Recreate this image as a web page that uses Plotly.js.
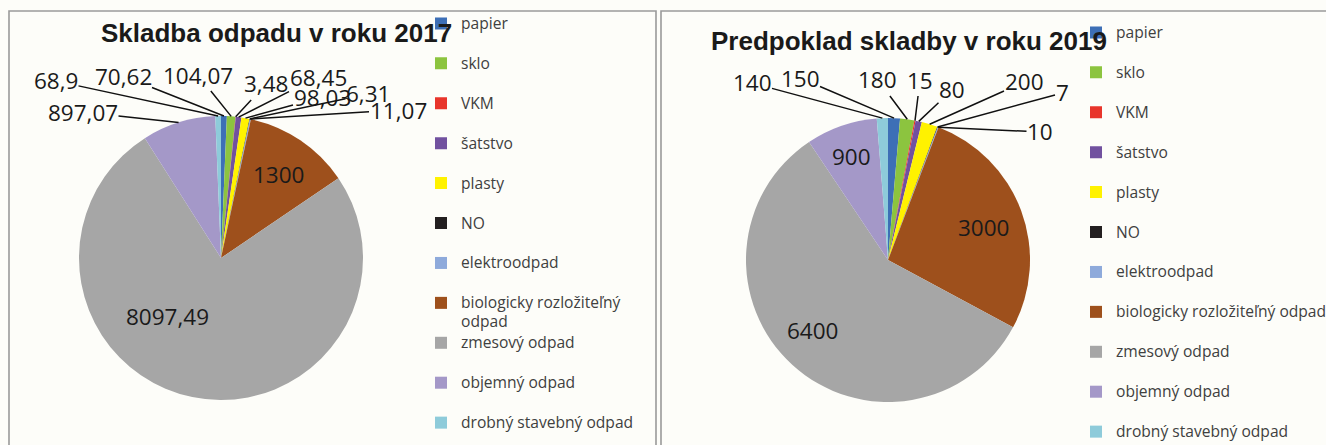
<!DOCTYPE html>
<html><head><meta charset="utf-8">
<script src="https://cdn.plot.ly/plotly-3.0.1.min.js"></script>
<style>html,body{margin:0;padding:0;background:#fdfdf9}#chart{width:1326px;height:445px}</style>
</head><body><div id="chart"></div>
<script>
// ---- data ----
const categories = ['papier','sklo','VKM','šatstvo','plasty','NO','elektroodpad','biologicky rozložiteľný odpad','zmesový odpad','objemný odpad','drobný stavebný odpad'];
const values2017 = [70.62, 104.07, 3.48, 68.45, 98.03, 6.31, 11.07, 1300, 8097.49, 897.07, 68.9];
const values2019 = [150, 180, 15, 80, 200, 7, 10, 3000, 6400, 900, 140];
const title2017 = 'Skladba odpadu v roku 2017';
const title2019 = 'Predpoklad skladby v roku 2019';

// ---- style ----
const colors = ['#3D6FB6','#8CC43F','#E8352B','#71519F','#FFF200','#231F20','#8EAADB','#9E501C','#A6A6A6','#A498C8','#8ECBDA'];
const W = 1326, H = 445;
const pie1 = {cx: 221, cy: 258, r: 142};
const pie2 = {cx: 888, cy: 260, r: 142};
// label centres (px) per slice index; 'in' = inside label without leader line
const labelPos2017 = {10:[56,81], 0:[123,76], 1:[198,75], 2:[266,84], 3:[318,77], 4:[322,97], 5:[368,94], 6:[398,110], 9:[83,112], 7:[278,174,'in'], 8:[167,316,'in']};
const labelPos2019 = {10:[752,83], 0:[800,78], 1:[878,80], 2:[920,80], 3:[952,90], 4:[1024,82], 5:[1062,93], 6:[1040,132], 7:[983,228,'in'], 8:[812,330,'in'], 9:[851,157,'in']};
const numFont = {family: 'Open Sans, sans-serif', size: 22.5, color: '#1a1a1a'};
const legFont = {family: 'Open Sans, sans-serif', size: 14.2, color: '#404040'};
const legTextSize = '15.6px';

function fmt(v){ return String(v).replace('.', ','); }
function domainOf(p){ return {x:[(p.cx-p.r)/W, (p.cx+p.r)/W], y:[1-(p.cy+p.r)/H, 1-(p.cy-p.r)/H]}; }
function edgePx(vals, i, p){
  const tot = vals.reduce((a,b)=>a+b,0);
  let cum = 0; for(let k=0;k<i;k++) cum += vals[k];
  const th = 2*Math.PI*(cum + vals[i]/2)/tot;
  return [p.cx + p.r*Math.sin(th), p.cy - p.r*Math.cos(th)];
}
function pieTrace(vals, labels, p, legendId){
  return {
    type: 'pie', values: vals, labels: labels, sort: false, direction: 'clockwise', rotation: 0,
    domain: domainOf(p),
    marker: {colors: colors, line: {width: 0}},
    text: vals.map(fmt), textinfo: 'none',
    hovertemplate: '%{text} (%{percent})<extra></extra>',
    legend: legendId, showlegend: true
  };
}
function labelAnns(vals, pos, p){
  return Object.keys(pos).map(k=>{
    const i = +k; const t = pos[k];
    if(t[2] === 'in'){
      return {x: t[0]/W, y: 1-t[1]/H, xref:'paper', yref:'paper', xanchor:'center', yanchor:'middle',
        text: fmt(vals[i]), showarrow:false, font: numFont, borderpad: 0};
    }
    const e = edgePx(vals, i, p);
    return {x: e[0]/W, y: 1-e[1]/H, xref:'paper', yref:'paper', text: fmt(vals[i]),
      showarrow: true, arrowhead: 0, arrowwidth: 1.5, arrowcolor: '#111', standoff: 0,
      ax: t[0]-e[0], ay: t[1]-e[1], font: numFont, borderpad: 0};
  });
}
function span(s){ return '<span style="font-size:' + legTextSize + '">' + s + '</span>'; }

const labels2017 = categories.map(c => c === 'biologicky rozložiteľný odpad'
  ? span('biologicky rozložiteľný') + '<br>' + span('odpad') : span(c) + '<br> ');
const labels2019 = categories.map(c => span(c) + '<br>\u00a0');

const traces = [
  pieTrace(values2017, labels2017, pie1, 'legend'),
  pieTrace(values2019, labels2019, pie2, 'legend2')
];

const legendBase = {xanchor:'left', yanchor:'top', valign:'top', font: legFont, bgcolor:'rgba(0,0,0,0)', borderwidth:0, traceorder:'normal', maxheight: 2000};
const titleFont = {family:'Liberation Sans, Arial, sans-serif', size:26, weight:'bold', color:'#1a1a1a'};
const layout = {
  width: W, height: H,
  margin: {l:0, r:0, t:0, b:0, autoexpand:false},
  paper_bgcolor: '#fdfdf9', plot_bgcolor: '#fdfdf9',
  legend: Object.assign({x: 421/W, y: 1-7.7/H}, legendBase),
  legend2: Object.assign({x: 1076/W, y: 1-16.7/H}, legendBase),
  shapes: [
    {type:'rect', xref:'paper', yref:'paper', x0: 9/W, x1: 656/W, y0: -0.1, y1: 1-11/H, line:{color:'#9a9a9a', width:1.6}},
    {type:'rect', xref:'paper', yref:'paper', x0: 661/W, x1: 1.1, y0: -0.1, y1: 1-11/H, line:{color:'#9a9a9a', width:1.6}}
  ],
  annotations: [
    {x: 276/W, y: 1-33/H, xref:'paper', yref:'paper', xanchor:'center', yanchor:'middle', text: title2017, showarrow:false, font: titleFont},
    {x: 909/W, y: 1-41/H, xref:'paper', yref:'paper', xanchor:'center', yanchor:'middle', text: title2019, showarrow:false, font: titleFont}
  ].concat(labelAnns(values2017, labelPos2017, pie1), labelAnns(values2019, labelPos2019, pie2))
};

Plotly.newPlot('chart', traces, layout, {displayModeBar: false});
</script>
</body></html>
